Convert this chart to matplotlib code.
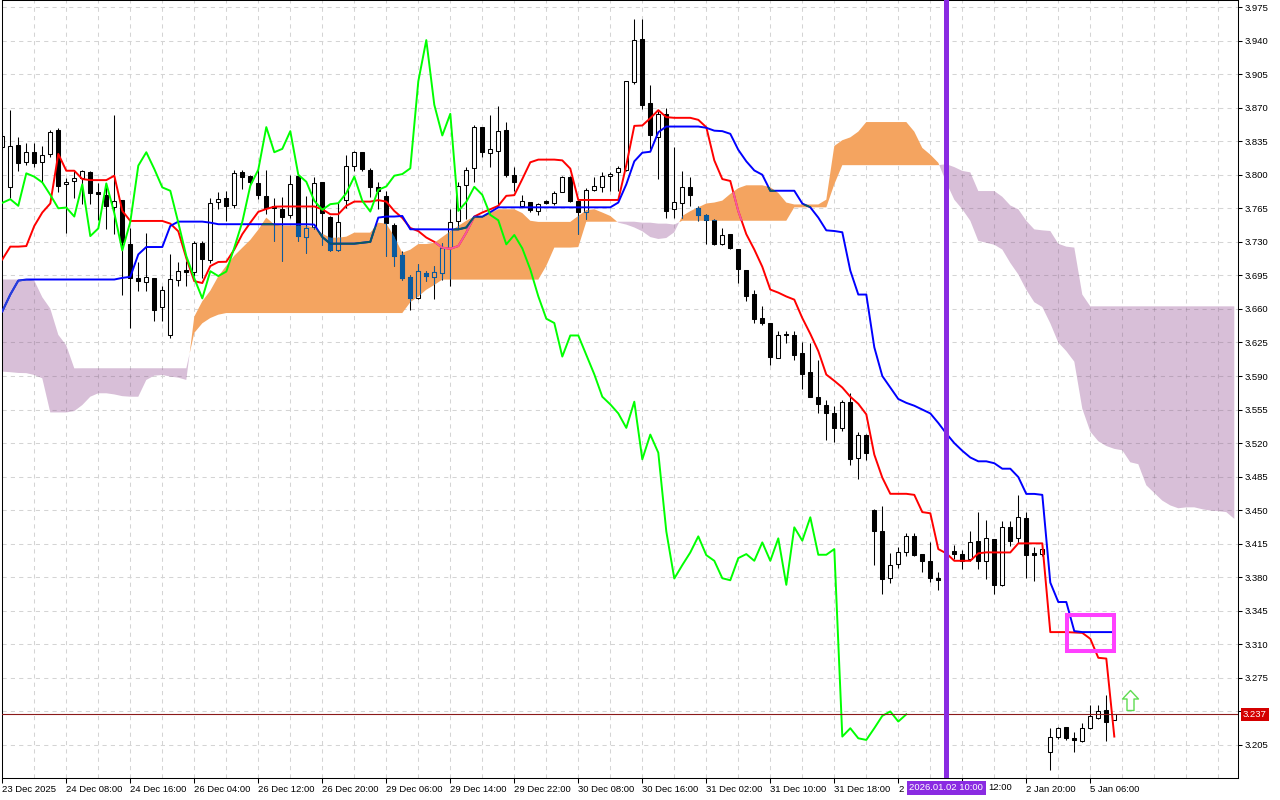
import numpy as np
import matplotlib
matplotlib.use("Agg")
import matplotlib.pyplot as plt
from matplotlib.path import Path
from matplotlib.patches import Rectangle
import matplotlib.transforms as mtransforms

plt.rcParams['font.family'] = ['Liberation Sans', 'DejaVu Sans']

# ---------------- data (H1 bars, index 0 = leftmost bar) ----------------
opens = [3.829, 3.7875, 3.8315, 3.8136, 3.8235, 3.8136, 3.8217, 3.8462, 3.790, 3.7937,
         3.7965, 3.8025, 3.782, 3.7787, 3.7665, 3.774, 3.7274, 3.6925, 3.688, 3.6925,
         3.6617, 3.633, 3.690, 3.7005, 3.6984, 3.7291, 3.7106, 3.772, 3.7753, 3.7686,
         3.8032, 3.799, 3.791, 3.778, 3.7675, 3.7641, 3.758, 3.7983, 3.735, 3.745,
         3.792, 3.7564, 3.7211, 3.774, 3.8095, 3.8235, 3.805, 3.7868, 3.778, 3.748,
         3.716, 3.693, 3.671, 3.698, 3.693, 3.6977, 3.7239, 3.752, 3.7892, 3.8067,
         3.8497, 3.8224, 3.8252, 3.8462, 3.800, 3.7676, 3.7717, 3.7623, 3.7721, 3.7703,
         3.7822, 3.798, 3.7728, 3.7613, 3.7843, 3.7868, 3.799, 3.8025, 3.8053, 3.8968,
         3.9415, 3.8752, 3.8398, 3.8636, 3.764, 3.771, 3.7867, 3.7658, 3.7581, 3.7525,
         3.7274, 3.7386, 3.7228, 3.7005, 3.6757, 3.6505, 3.6453, 3.6093, 3.6337, 3.6323,
         3.6138, 3.5939, 3.5684, 3.5597, 3.551, 3.5359, 3.5625, 3.5045, 3.5282, 3.4503,
         3.4279, 3.3794, 3.3934, 3.4059, 3.4227, 3.4042, 3.3972, 3.3797, 3.377, 3.4077,
         3.4042, 3.399, 3.4175, 3.3972, 3.4199, 3.3721, 3.4321, 3.4206, 3.4416, 3.4052,
         3.4042, 3.198, 3.2131, 3.2235, 3.2127, 3.2092, 3.2225, 3.233, 3.2417, 3.2315]

highs = [3.845, 3.868, 3.8392, 3.833, 3.833, 3.830, 3.847, 3.8486, 3.797, 3.804,
         3.805, 3.8042, 3.7913, 3.7896, 3.8626, 3.774, 3.7448, 3.709, 3.739, 3.6925,
         3.6837, 3.717, 3.709, 3.7099, 3.731, 3.731, 3.776, 3.7815, 3.7833, 3.805,
         3.8049, 3.7997, 3.8057, 3.805, 3.776, 3.7763, 3.8001, 3.799, 3.778, 3.798,
         3.7921, 3.757, 3.7718, 3.821, 3.8252, 3.8235, 3.807, 3.792, 3.7833, 3.750,
         3.720, 3.6949, 3.7064, 3.6994, 3.705, 3.7291, 3.764, 3.792, 3.8077, 3.8514,
         3.8497, 3.862, 3.8713, 3.8549, 3.8077, 3.7787, 3.7717, 3.7703, 3.7735, 3.7833,
         3.799, 3.799, 3.7745, 3.7857, 3.7979, 3.8032, 3.8032, 3.8088, 3.8975, 3.9625,
         3.9625, 3.8933, 3.867, 3.870, 3.8294, 3.8042, 3.7972, 3.7675, 3.759, 3.7536,
         3.7442, 3.7386, 3.7228, 3.7005, 3.6795, 3.6627, 3.6453, 3.6365, 3.6365, 3.6372,
         3.6253, 3.6243, 3.607, 3.5649, 3.559, 3.5649, 3.5719, 3.5317, 3.530, 3.451,
         3.4541, 3.4052, 3.4112, 3.4262, 3.4262, 3.4045, 3.4164, 3.386, 3.403, 3.4136,
         3.4087, 3.4287, 3.4479, 3.4398, 3.4199, 3.4391, 3.4391, 3.466, 3.4479, 3.4112,
         3.4147, 3.2225, 3.2242, 3.2242, 3.219, 3.2277, 3.247, 3.247, 3.2574, 3.2375]

lows = [3.826, 3.776, 3.804, 3.810, 3.8077, 3.792, 3.8182, 3.7815, 3.739, 3.776,
        3.770, 3.770, 3.753, 3.7438, 3.738, 3.675, 3.640, 3.6785, 3.679, 3.647,
        3.647, 3.630, 3.6844, 3.6844, 3.694, 3.6925, 3.708, 3.764, 3.752, 3.765,
        3.785, 3.788, 3.775, 3.759, 3.731, 3.710, 3.755, 3.731, 3.7187, 3.743,
        3.727, 3.720, 3.7204, 3.765, 3.804, 3.804, 3.7763, 3.764, 3.715, 3.7047,
        3.6907, 3.659, 3.670, 3.689, 3.670, 3.6907, 3.6837, 3.743, 3.7536, 3.792,
        3.8182, 3.8077, 3.7676, 3.7973, 3.7833, 3.7668, 3.7613, 3.7578, 3.7693, 3.7682,
        3.7815, 3.7711, 3.7378, 3.7536, 3.7826, 3.7815, 3.7833, 3.7833, 3.8042, 3.8951,
        3.8689, 3.827, 3.7955, 3.7553, 3.7553, 3.7553, 3.7675, 3.7518, 3.728, 3.7266,
        3.7267, 3.7221, 3.6872, 3.6687, 3.6453, 3.6435, 3.6016, 3.6086, 3.6243, 3.6068,
        3.5764, 3.5684, 3.5509, 3.523, 3.5212, 3.5324, 3.4968, 3.4828, 3.502, 3.393,
        3.3623, 3.3745, 3.3902, 3.4017, 3.4017, 3.385, 3.3755, 3.3668, 3.372, 3.3989,
        3.3885, 3.3972, 3.3885, 3.3787, 3.3623, 3.371, 3.4129, 3.4157, 3.379, 3.3762,
        3.402, 3.1788, 3.211, 3.2103, 3.198, 3.2085, 3.2215, 3.232, 3.2096, 3.2312]

closes = [3.840, 3.830, 3.812, 3.824, 3.8123, 3.821, 3.845, 3.7885, 3.7927, 3.7962,
          3.8035, 3.7808, 3.7798, 3.767, 3.7728, 3.730, 3.6925, 3.689, 3.693, 3.6592,
          3.680, 3.6914, 3.700, 3.699, 3.7291, 3.7117, 3.7707, 3.7745, 3.7676, 3.8015,
          3.798, 3.792, 3.779, 3.765, 3.7658, 3.7564, 3.790, 3.736, 3.744, 3.791,
          3.760, 3.721, 3.7508, 3.8095, 3.8235, 3.806, 3.7868, 3.7833, 3.750, 3.7152,
          3.692, 3.671, 3.6994, 3.6943, 3.699, 3.7239, 3.7508, 3.7885, 3.8053, 3.8497,
          3.8235, 3.827, 3.8455, 3.800, 3.7927, 3.7728, 3.7634, 3.7693, 3.7703, 3.7808,
          3.798, 3.7728, 3.7616, 3.7843, 3.7878, 3.799, 3.8007, 3.8067, 3.8975, 3.9405,
          3.873, 3.841, 3.8636, 3.7623, 3.7717, 3.7874, 3.779, 3.7581, 3.7525, 3.7274,
          3.7372, 3.7232, 3.7012, 3.6732, 3.6498, 3.6453, 3.6103, 3.6323, 3.6323, 3.612,
          3.5918, 3.5684, 3.5604, 3.551, 3.5359, 3.5632, 3.5031, 3.5289, 3.510, 3.4279,
          3.3787, 3.3927, 3.4059, 3.4227, 3.4031, 3.3972, 3.379, 3.3769, 3.400, 3.4042,
          3.3972, 3.4164, 3.3972, 3.4206, 3.3721, 3.4321, 3.4182, 3.4426, 3.4035, 3.4035,
          3.4094, 3.2138, 3.2225, 3.212, 3.2103, 3.2225, 3.2354, 3.240, 3.2295, 3.237]

tenkan = [3.7116, 3.725, 3.725, 3.7256, 3.7466, 3.7606, 3.770, 3.8217, 3.8042, 3.8042,
          3.7955, 3.7944, 3.7944, 3.7944, 3.799, 3.7623, 3.7518, 3.7518, 3.7518, 3.7518,
          3.7518, 3.749, 3.741, 3.713, 3.689, 3.687, 3.7047, 3.709, 3.7092, 3.722,
          3.738, 3.750, 3.7613, 3.7643, 3.7667, 3.7669, 3.7669, 3.7669, 3.7669, 3.7669,
          3.764, 3.7588, 3.7588, 3.7676, 3.772, 3.772, 3.772, 3.7735, 3.772, 3.7622,
          3.755, 3.7445, 3.7412, 3.7345, 3.730, 3.7239, 3.7228, 3.7256, 3.7396, 3.7564,
          3.7606, 3.764, 3.7676, 3.778, 3.7787, 3.7955, 3.813, 3.8158, 3.8158, 3.8158,
          3.8150, 3.8064, 3.7737, 3.7737, 3.7737, 3.7737, 3.7737, 3.7737, 3.810, 3.8510,
          3.8514, 3.8590, 3.8674, 3.8601, 3.8594, 3.8594, 3.8594, 3.8573, 3.8496, 3.815,
          3.7955, 3.7935, 3.762, 3.738, 3.722, 3.704, 3.6802, 3.677, 3.673, 3.6697,
          3.6505, 3.634, 3.616, 3.5915, 3.585, 3.578, 3.5684, 3.561, 3.550, 3.508,
          3.484, 3.4671, 3.4671, 3.4671, 3.4660, 3.4480, 3.4468, 3.4094, 3.4050, 3.3972,
          3.3972, 3.3972, 3.4050, 3.4060, 3.4059, 3.4059, 3.4059, 3.4154, 3.4154, 3.4154,
          3.4154, 3.3228, 3.3228, 3.3228, 3.3224, 3.3220, 3.3158, 3.2960, 3.2952, 3.2138]

kijun = [3.6575, 3.675, 3.6896, 3.6907, 3.6907, 3.6907, 3.6907, 3.6907, 3.6907, 3.6907,
         3.6907, 3.6907, 3.6907, 3.6907, 3.6907, 3.6924, 3.6935, 3.7169, 3.7246, 3.7246,
         3.7246, 3.7466, 3.7511, 3.7511, 3.7511, 3.7511, 3.750, 3.7484, 3.7484, 3.7484,
         3.7484, 3.7484, 3.7484, 3.7484, 3.7484, 3.7484, 3.7484, 3.7484, 3.7484, 3.7480,
         3.735, 3.7281, 3.7281, 3.7281, 3.7281, 3.729, 3.730, 3.7553, 3.7564, 3.7564,
         3.757, 3.7431, 3.7431, 3.7431, 3.743, 3.743, 3.743, 3.743, 3.745, 3.7563,
         3.7563, 3.761, 3.766, 3.766, 3.766, 3.766, 3.766, 3.766, 3.766, 3.766,
         3.766, 3.766, 3.766, 3.766, 3.766, 3.766, 3.766, 3.771, 3.790, 3.814,
         3.823, 3.824, 3.8444, 3.8503, 3.8503, 3.8503, 3.8503, 3.8503, 3.849, 3.846,
         3.8455, 3.8427, 3.826, 3.814, 3.8045, 3.800, 3.7833, 3.7833, 3.7833, 3.7833,
         3.770, 3.766, 3.7553, 3.742, 3.7413, 3.740, 3.700, 3.675, 3.675, 3.620,
         3.590, 3.578, 3.566, 3.562, 3.559, 3.555, 3.551, 3.541, 3.530, 3.520,
         3.512, 3.505, 3.501, 3.501, 3.499, 3.4933, 3.4933, 3.4846, 3.467, 3.467,
         3.466, 3.3745, 3.3542, 3.3542, 3.3238, 3.3228, 3.3228, 3.3228, 3.3228, 3.3228]

# cloud spans (already displaced 26 bars forward, index = bar position on chart)
span_a = [3.5946, 3.594, 3.5932, 3.593, 3.5911, 3.5876, 3.552, 3.552, 3.552, 3.5534,
          3.5597, 3.5684, 3.572, 3.572, 3.5708, 3.569, 3.5684, 3.5684, 3.5859, 3.5904,
          3.5911, 3.5894, 3.5883, 3.5859, 3.652, 3.668, 3.679, 3.694, 3.705, 3.7155,
          3.7238, 3.732, 3.7427, 3.7553, 3.748, 3.747, 3.747, 3.747, 3.747, 3.7448,
          3.7385, 3.7343, 3.7343, 3.7354, 3.7396, 3.7396, 3.7396, 3.750, 3.749, 3.7354,
          3.7186, 3.7218, 3.7277, 3.7277, 3.729, 3.735, 3.741, 3.7466, 3.752, 3.7563,
          3.7563, 3.760, 3.764, 3.764, 3.764, 3.760, 3.752, 3.7508, 3.7508, 3.7508,
          3.7508, 3.7508, 3.757, 3.763, 3.764, 3.7606, 3.757, 3.750, 3.748, 3.745,
          3.741, 3.735, 3.733, 3.734, 3.740, 3.757, 3.762, 3.766, 3.770, 3.771,
          3.773, 3.780, 3.786, 3.789, 3.789, 3.789, 3.787, 3.781, 3.771, 3.769,
          3.769, 3.769, 3.769, 3.774, 3.830, 3.836, 3.839, 3.845, 3.855, 3.855,
          3.855, 3.855, 3.855, 3.855, 3.845, 3.828, 3.821, 3.8125, 3.792, 3.774,
          3.764, 3.752, 3.731, 3.729, 3.727, 3.722, 3.708, 3.696, 3.680, 3.667,
          3.662, 3.645, 3.625, 3.616, 3.605, 3.556, 3.532, 3.522, 3.517, 3.514,
          3.5125, 3.500, 3.498, 3.476, 3.468, 3.460, 3.455, 3.452, 3.453, 3.453,
          3.451, 3.4496, 3.449, 3.448, 3.441]

span_b = [3.6907, 3.6907, 3.6907, 3.6907, 3.6896, 3.6722, 3.6603, 3.633, 3.6219, 3.598,
          3.5981, 3.5981, 3.5981, 3.5981, 3.5981, 3.5981, 3.5981, 3.5981, 3.5981, 3.5981,
          3.5981, 3.5981, 3.5981, 3.5981, 3.635, 3.645, 3.6505, 3.654, 3.6557, 3.6557,
          3.6557, 3.6557, 3.6557, 3.6557, 3.6557, 3.6557, 3.6557, 3.6557, 3.6557, 3.6557,
          3.6557, 3.6557, 3.6557, 3.6557, 3.6557, 3.6557, 3.6557, 3.6557, 3.6557, 3.6557,
          3.6557, 3.667, 3.673, 3.680, 3.685, 3.6906, 3.6906, 3.6906, 3.6906, 3.6906,
          3.6906, 3.6906, 3.6906, 3.6906, 3.6906, 3.6906, 3.6906, 3.6906, 3.705, 3.724,
          3.724, 3.724, 3.7245, 3.751, 3.751, 3.751, 3.751, 3.751, 3.751, 3.751,
          3.750, 3.750, 3.749, 3.749, 3.748, 3.752, 3.752, 3.752, 3.752, 3.752,
          3.752, 3.752, 3.752, 3.752, 3.752, 3.752, 3.752, 3.752, 3.752, 3.766,
          3.766, 3.766, 3.766, 3.766, 3.790, 3.810, 3.810, 3.810, 3.810, 3.810,
          3.810, 3.810, 3.810, 3.810, 3.810, 3.810, 3.810, 3.810, 3.811, 3.808,
          3.804, 3.8025, 3.783, 3.783, 3.783, 3.777, 3.768, 3.764, 3.752, 3.743,
          3.742, 3.7413, 3.728, 3.725, 3.724, 3.675, 3.6627, 3.6627, 3.6627, 3.6627,
          3.6627, 3.6627, 3.6627, 3.6627, 3.6627, 3.6627, 3.6627, 3.6627, 3.6627, 3.6627,
          3.6627, 3.6627, 3.6627, 3.6627, 3.6627]

chikou_shift = 26

price_ticks = [3.205, 3.240, 3.275, 3.310, 3.345, 3.380, 3.415, 3.450, 3.485, 3.520,
               3.555, 3.590, 3.625, 3.660, 3.695, 3.730, 3.765, 3.800, 3.835, 3.870,
               3.905, 3.940, 3.975]

label_bars = [0, 8, 16, 24, 32, 40, 48, 56, 64, 72, 80, 88, 96, 104, 112, 120, 128, 136]
# visible text of each date label ("2 Jan 04:00" and "2 Jan 12:00" are mostly
# hidden behind the cursor time box, only "2" and "12:00" show)
time_labels = ['23 Dec 2025', '24 Dec 08:00', '24 Dec 16:00', '26 Dec 04:00', '26 Dec 12:00',
               '26 Dec 20:00', '29 Dec 06:00', '29 Dec 14:00', '29 Dec 22:00', '30 Dec 08:00',
               '30 Dec 16:00', '31 Dec 02:00', '31 Dec 10:00', '31 Dec 18:00', '2',
               '12:00', '2 Jan 20:00', '5 Jan 06:00']
label_shift_px = {120: 26}   # visible part of the covered label starts after "2 Jan "

last_price = 3.237
cursor_bar = 118
cursor_label = '2026.01.02 10:00'
box_bars = [133.1, 138.95]
box_prices = [3.3028, 3.341]
arrow_bar = 141.0
arrow_price = 3.252

# ---------------- figure ----------------
W, H = 1280, 800
fig = plt.figure(figsize=(W / 100, H / 100), dpi=100, facecolor='white')
ax = fig.add_axes([2.3 / W, 22 / H, (1238 - 2.3) / W, 778 / H])
ax.set_facecolor('white')
bar_px = 8.0
px_per_unit = 958.4
ax.set_xlim(0, (1238 - 2.3) / bar_px)
ax.set_ylim(3.205 - 33 / px_per_unit, 3.205 + 745 / px_per_unit)
ax.set_autoscale_on(False)

ORANGE = '#F4A460'
THISTLE = '#D8BFD8'


def xor_color(c, m):
    return '#%06X' % (int(c[1:], 16) ^ int(m[1:], 16))


# cloud
xc = np.arange(len(span_a))
A = np.array(span_a)
B = np.array(span_b)
orange_poly = ax.fill_between(xc, A, B, where=A >= B, interpolate=True, facecolor=ORANGE,
                              edgecolor='none', linewidth=0, zorder=1)
purple_poly = ax.fill_between(xc, A, B, where=A < B, interpolate=True, facecolor=THISTLE,
                              edgecolor='none', linewidth=0, zorder=1)


def compound(coll):
    ps = [p for p in coll.get_paths() if len(p.vertices)]
    return Path.make_compound_path(*ps) if ps else None


orange_path = compound(orange_poly)
purple_path = compound(purple_poly)
clouds = [(orange_path, ORANGE), (purple_path, THISTLE)]


# grid: light dashes on white, hidden by the orange cloud, darker dashes over the purple cloud
def draw_grid(color, alpha, z, clip=None):
    kw = dict(color=color, alpha=alpha, lw=0.75, ls=(0, (4, 4)), zorder=z)
    arts = [ax.axhline(p, **kw) for p in price_ticks]
    arts += [ax.axvline(k, **kw) for k in range(4, int(ax.get_xlim()[1]) + 1, 4)]
    if clip is not None:
        for a in arts:
            a.set_clip_path(clip, ax.transData)


draw_grid('#D4D4D4', 1.0, 0.5)
if purple_path is not None:
    draw_grid('#7a6a7a', 0.30, 1.5, clip=purple_path)

# candles
xb = np.arange(len(opens))
O = np.array(opens); Hh = np.array(highs); L = np.array(lows); C = np.array(closes)
up = C >= O
body_lo = np.minimum(O, C)
body_h = np.maximum(np.abs(C - O), 0.0009)


def draw_candles(dark, light_face, z, clip=None):
    arts = [ax.vlines(xb, L, Hh, colors=dark, linewidth=0.75, zorder=z)]
    b1 = ax.bar(xb[up], body_h[up], bottom=body_lo[up], width=0.5, facecolor=light_face,
                edgecolor=dark, linewidth=0.75, zorder=z)
    b2 = ax.bar(xb[~up], body_h[~up], bottom=body_lo[~up], width=0.5, facecolor=dark,
                edgecolor=dark, linewidth=0.75, zorder=z)
    arts += list(b1.patches) + list(b2.patches)
    if clip is not None:
        for a in arts:
            a.set_clip_path(clip, ax.transData)


def draw_lines(tcol, kcol, z, clip=None):
    l1, = ax.plot(xb, tenkan, color=tcol, lw=1.4, zorder=z)
    l2, = ax.plot(xb, kijun, color=kcol, lw=1.4, zorder=z)
    if clip is not None:
        l1.set_clip_path(clip, ax.transData)
        l2.set_clip_path(clip, ax.transData)


draw_candles('#000000', '#FFFFFF', 2)
for path, col in clouds:
    if path is None:
        continue
    m = xor_color('#FFFFFF', col)
    draw_candles(xor_color('#000000', m), col, 2.1, clip=path)

draw_lines('#FF0000', '#0000FF', 3)
for path, col in clouds:
    if path is None:
        continue
    m = xor_color('#FFFFFF', col)
    draw_lines(xor_color('#FF0000', m), xor_color('#0000FF', m), 3.1, clip=path)

# chikou span
ax.plot(np.arange(len(closes) - chikou_shift), closes[chikou_shift:], color='#00FF00',
        lw=1.4, zorder=4)

# current price line
ax.axhline(last_price, color='#8B1A1A', lw=0.8, zorder=4.5)

# cursor vertical line
ax.axvline(cursor_bar, color='#8A2BE2', lw=3.6, zorder=6)

# magenta rectangle
ax.add_patch(Rectangle((box_bars[0], box_prices[0]), box_bars[1] - box_bars[0],
                       box_prices[1] - box_prices[0], fill=False, edgecolor='#FF40FF',
                       lw=2.9, zorder=7))

# hollow up arrow
arrow_path = Path([(0, 1), (0.8, 0.15), (0.35, 0.15), (0.35, -1), (-0.35, -1),
                   (-0.35, 0.15), (-0.8, 0.15), (0, 1)],
                  [Path.MOVETO] + [Path.LINETO] * 6 + [Path.CLOSEPOLY])
ax.plot([arrow_bar], [arrow_price], marker=arrow_path, ms=14.4, mfc='none',
        mec='#5EDC50', mew=1.0, ls='none', zorder=7)

# axes styling
FS = 6.8
ax.yaxis.tick_right()
ax.set_yticks(price_ticks)
ax.set_yticklabels([f'{p:.3f}' for p in price_ticks])
ax.set_xticks(label_bars)
ax.set_xticklabels([('' if b in label_shift_px else t) for b, t in zip(label_bars, time_labels)])
for t in ax.get_xticklabels():
    t.set_horizontalalignment('left')
ax.tick_params(axis='y', labelsize=FS, length=3, width=0.75, pad=1.5, direction='out')
ax.tick_params(axis='x', labelsize=FS, length=3.5, width=0.75, pad=1.5, direction='out')
for s in ax.spines.values():
    s.set_linewidth(0.75)
    s.set_color('black')

# visible remainder of the date label partly hidden by the cursor box
for b, t in zip(label_bars, time_labels):
    if b in label_shift_px:
        trs = mtransforms.offset_copy(ax.get_xaxis_transform(), fig=fig,
                                      x=label_shift_px[b], y=0, units='dots')
        ax.text(b, -10 / 778, t, transform=trs, ha='left', va='center', fontsize=FS,
                clip_on=False)

# price label on the right axis
tr = mtransforms.offset_copy(ax.get_yaxis_transform(), fig=fig, x=5, y=0, units='dots')
ax.text(1.0, last_price, f'{last_price:.3f}', transform=tr, ha='left', va='center',
        color='white', fontsize=FS, zorder=20, clip_on=False,
        bbox=dict(boxstyle='square,pad=0.2', fc='#D40000', ec='none'))

# cursor time label on the bottom axis
ax.text(cursor_bar, -10 / 778, cursor_label, transform=ax.get_xaxis_transform(),
        ha='center', va='center', color='white', fontsize=FS, zorder=20, clip_on=False,
        bbox=dict(boxstyle='square,pad=0.25', fc='#8A2BE2', ec='none'))

fig.savefig('out.png', dpi=100, facecolor='white')
